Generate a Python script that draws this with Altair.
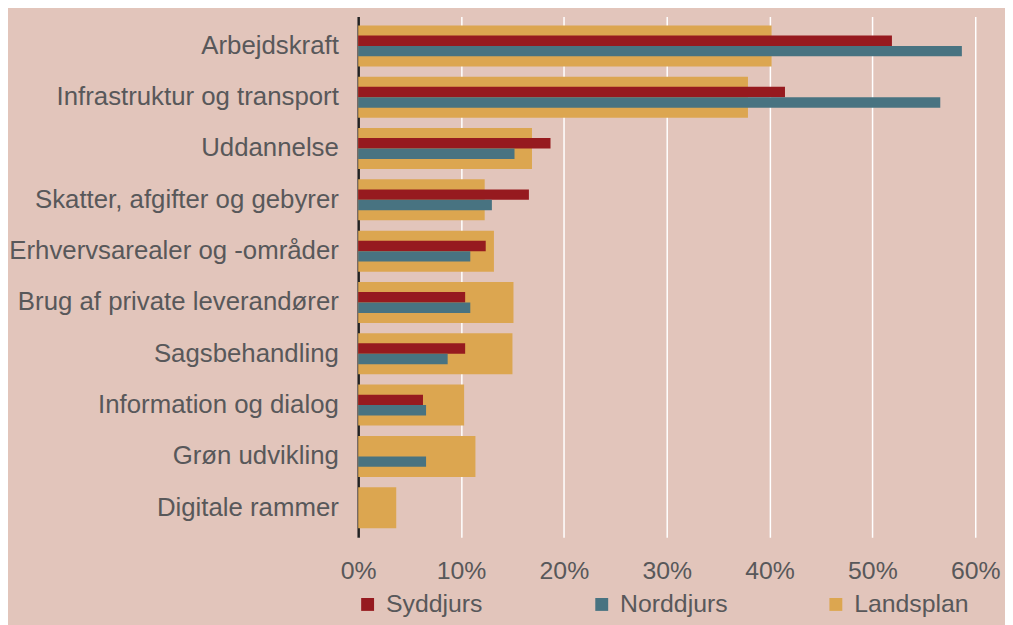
import altair as alt
import pandas as pd

kategorier = [
    "Arbejdskraft",
    "Infrastruktur og transport",
    "Uddannelse",
    "Skatter, afgifter og gebyrer",
    "Erhvervsarealer og -områder",
    "Brug af private leverandører",
    "Sagsbehandling",
    "Information og dialog",
    "Grøn udvikling",
    "Digitale rammer",
]
syddjurs = [0.519, 0.415, 0.187, 0.166, 0.124, 0.104, 0.104, 0.063, 0.0, 0.0]
norddjurs = [0.587, 0.566, 0.152, 0.130, 0.109, 0.109, 0.087, 0.066, 0.066, 0.0]
landsplan = [0.402, 0.379, 0.169, 0.123, 0.132, 0.151, 0.150, 0.103, 0.114, 0.037]

serier = ["Syddjurs", "Norddjurs", "Landsplan"]
farver = ["#961a1f", "#487381", "#dca650"]
x_ticks = [0.0, 0.1, 0.2, 0.3, 0.4, 0.5, 0.6]

rows = []
for navn, vals in zip(serier, [syddjurs, norddjurs, landsplan]):
    for k, v in zip(kategorier, vals):
        rows.append({"kategori": k, "serie": navn, "andel": v})
df = pd.DataFrame(rows)

FONT = "Liberation Sans"
TXT = "#58585a"

y_enc = alt.Y(
    "kategori:N",
    sort=kategorier,
    scale=alt.Scale(paddingInner=0.2, paddingOuter=0.175),
    axis=alt.Axis(
        title=None, ticks=False, labelPadding=20, labelFontSize=26,
        labelFont=FONT, labelColor=TXT, domainColor="#222222",
        domainWidth=2.5, grid=False, labelLimit=600,
    ),
)
x_enc = alt.X(
    "andel:Q",
    scale=alt.Scale(domain=[0, 0.6], nice=False),
    axis=alt.Axis(
        title=None, values=x_ticks, format=".0%", ticks=False, domain=False,
        labelPadding=22, labelFontSize=25, labelFont=FONT, labelColor=TXT,
        grid=True, gridColor="#ffffff", gridWidth=1.5, labelFlush=False,
    ),
)
c_enc = alt.Color(
    "serie:N",
    scale=alt.Scale(domain=serier, range=farver),
    legend=alt.Legend(
        title=None, orient="none", direction="horizontal", columns=3,
        gridAlign="all", columnPadding=89, legendX=-3, legendY=580,
        padding=0, symbolType="square", symbolSize=169, symbolStrokeWidth=0,
        labelFontSize=25, labelFont=FONT, labelColor=TXT, labelOffset=6,
    ),
)

base = alt.Chart(df)
land = base.transform_filter(alt.datum.serie == "Landsplan").mark_bar().encode(
    y=y_enc, x=x_enc, color=c_enc
)
syd = base.transform_filter(alt.datum.serie == "Syddjurs").mark_bar(
    size=10.5, yOffset=-5.25
).encode(y=y_enc, x=x_enc, color=c_enc)
nord = base.transform_filter(alt.datum.serie == "Norddjurs").mark_bar(
    size=10.5, yOffset=5.25
).encode(y=y_enc, x=x_enc, color=c_enc)

chart = (
    alt.layer(land, syd, nord)
    .properties(
        width=622,
        height=525,
        background="#e2c5bb",
        autosize=alt.AutoSizeParams(type="none"),
        padding={"left": 353, "top": 6, "right": 30, "bottom": 86},
    )
    .configure_view(stroke=None)
)

chart.save("out.html", embed_options={"renderer": "svg", "actions": False})
